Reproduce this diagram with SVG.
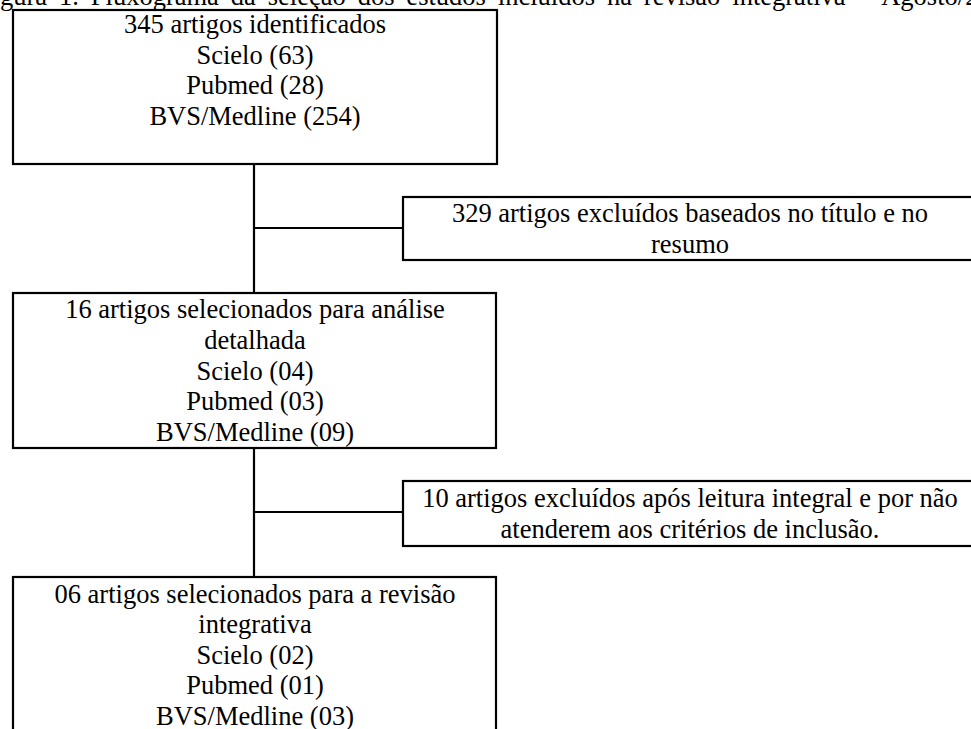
<svg xmlns="http://www.w3.org/2000/svg" width="971" height="729" viewBox="0 0 971 729">
  <style>
    text { font-family: "Liberation Serif", "Times New Roman", serif; font-size: 26.5px; fill: #000; }
    .c { text-anchor: middle; }
    .box { fill: #fff; stroke: #000; stroke-width: 2.2; }
    .conn { fill: none; stroke: #000; stroke-width: 2.2; }
  </style>
  <rect x="0" y="0" width="971" height="729" fill="#fff"/>
  <text id="title" x="0" y="5" word-spacing="5.3">gura 1. Fluxograma da seleção dos estudos incluídos na revisão integrativa – Agosto/2</text>

  <g id="connectors">
    <path class="conn" d="M254,164 V293 M254,228 H403"/>
    <path class="conn" d="M254,448 V577 M254,512 H403"/>
  </g>

  <g id="node-identified">
    <rect class="box" x="13" y="10" width="484" height="154"/>
    <text class="c" x="255" y="33">345 artigos identificados</text>
    <text class="c" x="255" y="64">Scielo (63)</text>
    <text class="c" x="255" y="94">Pubmed (28)</text>
    <text class="c" x="255" y="125">BVS/Medline (254)</text>
  </g>

  <g id="node-excluded-title">
    <rect class="box" x="403" y="197" width="576" height="63"/>
    <text class="c" x="690" y="222">329 artigos excluídos baseados no título e no</text>
    <text class="c" x="690" y="253">resumo</text>
  </g>

  <g id="node-selected-detailed">
    <rect class="box" x="13" y="293" width="483" height="155"/>
    <text class="c" x="255" y="318">16 artigos selecionados para análise</text>
    <text class="c" x="255" y="349">detalhada</text>
    <text class="c" x="255" y="380">Scielo (04)</text>
    <text class="c" x="255" y="410">Pubmed (03)</text>
    <text class="c" x="255" y="441">BVS/Medline (09)</text>
  </g>

  <g id="node-excluded-full">
    <rect class="box" x="403" y="481" width="576" height="65"/>
    <text class="c" x="690" y="507">10 artigos excluídos após leitura integral e por não</text>
    <text class="c" x="690" y="538">atenderem aos critérios de inclusão.</text>
  </g>

  <g id="node-final">
    <rect class="box" x="13" y="577" width="483" height="170"/>
    <text class="c" x="255" y="603">06 artigos selecionados para a revisão</text>
    <text class="c" x="255" y="633">integrativa</text>
    <text class="c" x="255" y="664">Scielo (02)</text>
    <text class="c" x="255" y="694">Pubmed (01)</text>
    <text class="c" x="255" y="725">BVS/Medline (03)</text>
  </g>
</svg>
